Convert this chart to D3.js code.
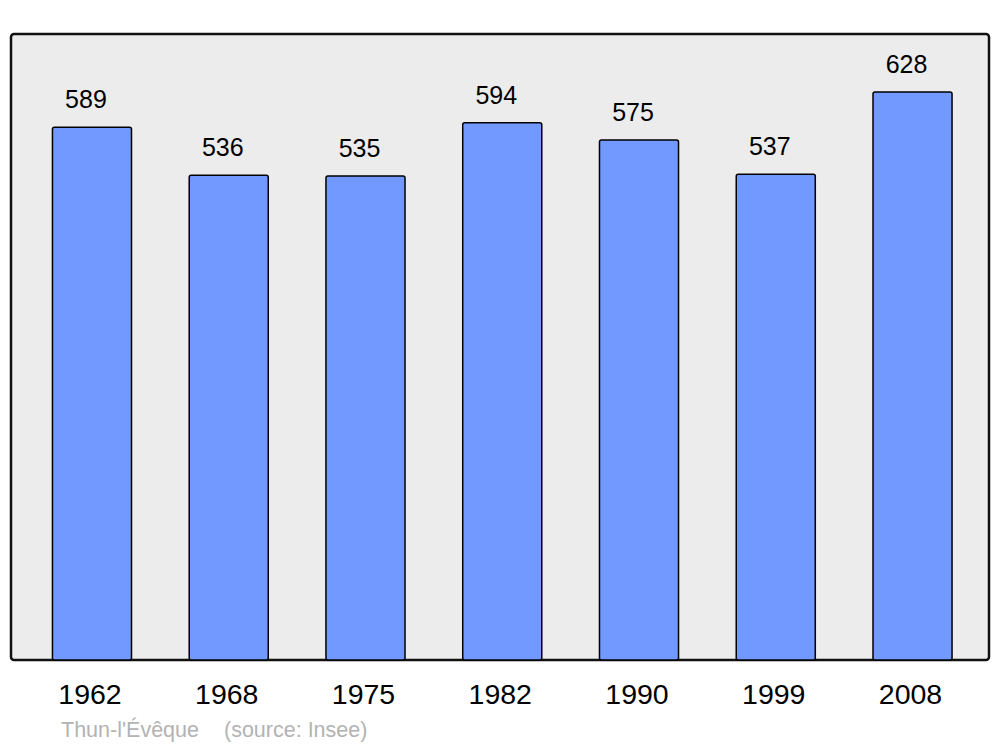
<!DOCTYPE html>
<html>
<head>
<meta charset="utf-8">
<script src="https://cdn.jsdelivr.net/npm/d3@7"></script>
<style>
  body { margin: 0; background: #fff; }
  svg { display: block; font-family: "Liberation Sans", Arial, sans-serif; }
</style>
</head>
<body>
<div id="chart"></div>
<script>
// population by census year
var years = ["1962", "1968", "1975", "1982", "1990", "1999", "2008"];
var population = [589, 536, 535, 594, 575, 537, 628];
var place = "Thun-l'Évêque";
var source = "(source: Insee)";

var w = 1000, h = 747;

var svg = d3.select("#chart").append("svg")
    .attr("width", w)
    .attr("height", h);

// grey panel behind the bars
svg.append("rect")
    .attr("x", 11).attr("y", 34)
    .attr("width", 978).attr("height", 626)
    .attr("rx", 3).attr("ry", 3)
    .attr("fill", "#ececec")
    .attr("stroke", "#111")
    .attr("stroke-width", 2.5);

var xScale = d3.scaleBand()
    .domain(years)
    .range([23.6, 980.9])
    .paddingInner(0.422)
    .paddingOuter(0.211);

var yScale = d3.scaleLinear()
    .domain([0, d3.max(population)])
    .range([660, 92]);

var data = years.map(function (y, i) {
    return { year: y, value: population[i] };
});

svg.selectAll(".bar")
    .data(data)
    .enter()
    .append("rect")
    .attr("class", "bar")
    .attr("x", function (d) { return xScale(d.year); })
    .attr("y", function (d) { return yScale(d.value); })
    .attr("width", xScale.bandwidth())
    .attr("height", function (d) { return 660 - yScale(d.value); })
    .attr("rx", 2).attr("ry", 2)
    .attr("fill", "#7299ff")
    .attr("stroke", "#000")
    .attr("stroke-width", 1.5);

// value labels above each bar
svg.selectAll(".val")
    .data(data)
    .enter()
    .append("text")
    .attr("class", "val")
    .attr("x", function (d) { return xScale(d.year) + xScale.bandwidth() / 2 - 6; })
    .attr("y", function (d) { return yScale(d.value) - 19; })
    .attr("text-anchor", "middle")
    .attr("font-size", 25)
    .attr("fill", "#000")
    .text(function (d) { return d.value; });

// year axis, no line or ticks
var xAxis = d3.axisBottom(xScale).tickSize(0).tickPadding(0);
var axisG = svg.append("g")
    .attr("transform", "translate(-2," + 704 + ")")
    .call(xAxis);
axisG.select(".domain").remove();
axisG.selectAll("text")
    .attr("dy", 0)
    .attr("font-size", 28.5)
    .attr("font-family", "Liberation Sans, Arial, sans-serif")
    .attr("fill", "#000");

svg.append("text")
    .attr("x", 61)
    .attr("y", 737)
    .attr("font-size", 21.5)
    .attr("fill", "#b3b3b3")
    .text(place);

svg.append("text")
    .attr("x", 224)
    .attr("y", 737)
    .attr("font-size", 21.5)
    .attr("fill", "#b3b3b3")
    .text(source);
</script>
</body>
</html>
